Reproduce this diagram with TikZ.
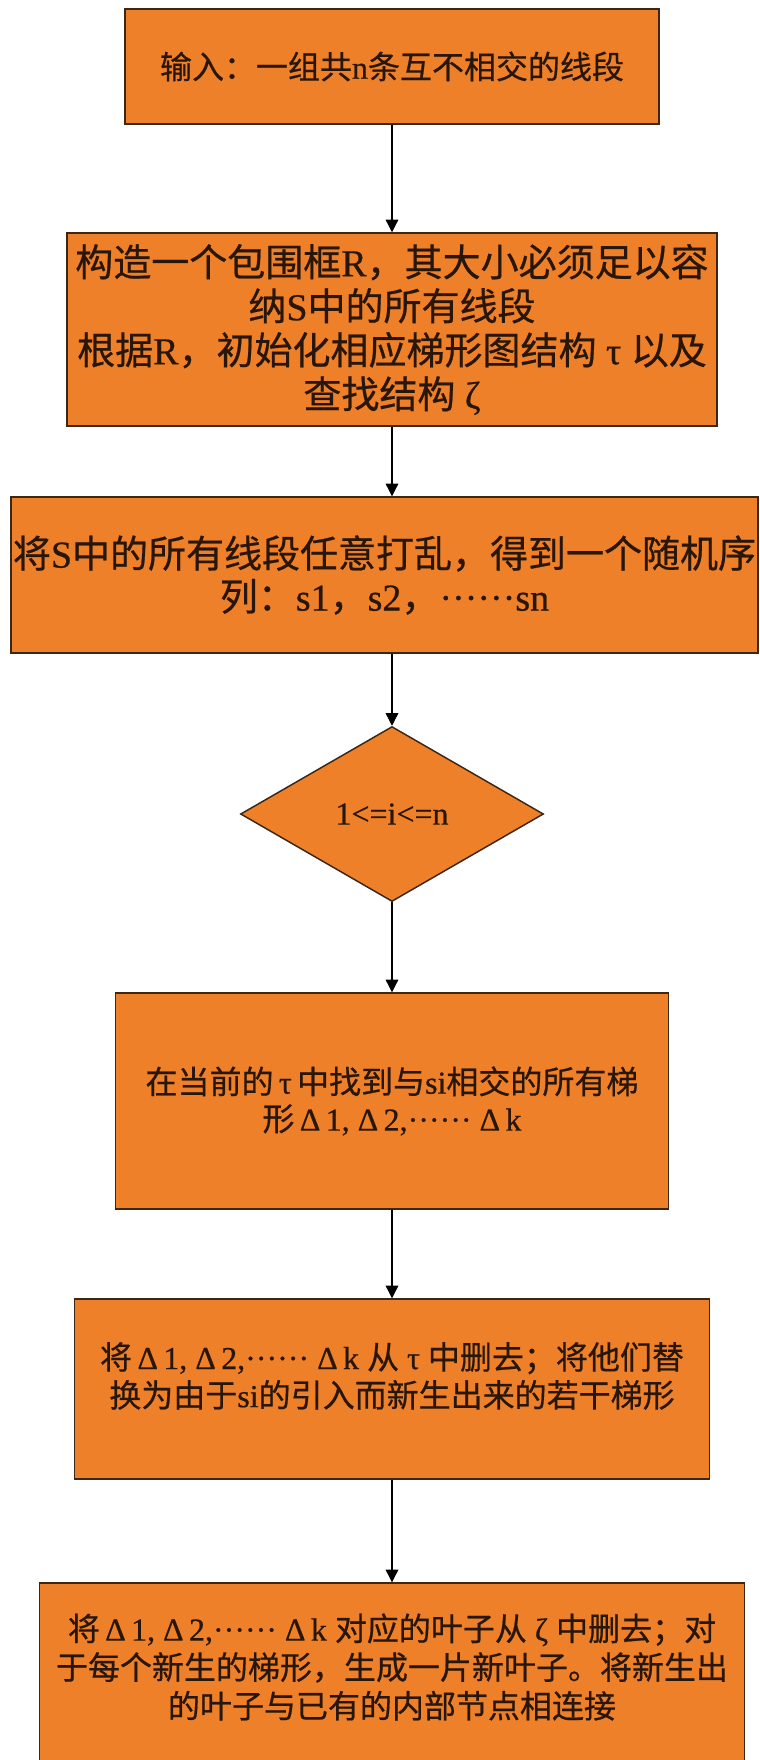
\documentclass[tikz,border=0pt]{standalone}
\usepackage{fontspec}
\setmainfont{Noto Sans CJK SC}[FakeBold=0.6]
\newfontfamily\la{Liberation Serif}[FakeBold=0.6]
\usetikzlibrary{shapes.geometric,arrows.meta}
\definecolor{boxfill}{RGB}{238,128,42}
\definecolor{boxline}{RGB}{60,38,20}
\definecolor{txt}{RGB}{40,22,8}
\newcommand\mydots{{\la ······}}
\begin{document}
\begin{tikzpicture}[x=0.75pt,y=-0.75pt,
  box/.style={draw=boxline, fill=boxfill, line width=1.1pt, inner sep=0pt, text=txt, align=center},
  dia/.style={box, shape=diamond},
  lab/.style={text=txt, align=center, inner sep=0pt},
  arr/.style={draw=black, line width=0.9pt, -{Triangle[width=9.5pt,length=9.5pt]}},
  fa/.style={font=\fontsize{24pt}{28pt}\selectfont},
  fb/.style={font=\fontsize{28.5pt}{33pt}\selectfont},
  fc/.style={font=\fontsize{24pt}{28.5pt}\selectfont}]
\useasboundingbox (0,0) rectangle (760,1760);
\fill[white] (0,0) rectangle (760,1760);

\node[box, fa, minimum width=400.5pt, minimum height=86.25pt] (b1) at (392,66.5)
  {输入：一组共{\la n}条互不相交的线段};

\node[box, fb, minimum width=487.5pt, minimum height=144.75pt] (b2) at (392,329.5)
  {构造一个包围框{\la R}，其大小必须足以容\\
   纳{\la S}中的所有线段\\
   根据{\la R}，初始化相应梯形图结构{\la\ τ\ }以及\\
   查找结构{\la\ ζ}};

\node[box, fb, font=\fontsize{28.5pt}{32.25pt}\selectfont, minimum width=560.25pt, minimum height=117pt] (b3) at (384.5,575)
  {将{\la S}中的所有线段任意打乱，得到一个随机序\\
   列：{\la s1}，{\la s2}，\mydots{\la sn}};

\node[dia, minimum width=227.25pt, minimum height=131.25pt, font=\la\fontsize{24pt}{28pt}\selectfont] (d4) at (392,814)
  {1<=i<=n};

\node[box, font=\fontsize{24pt}{27.75pt}\selectfont, minimum width=414.75pt, minimum height=162pt] (b5) at (392,1101)
  {在当前的{\la\,τ\,}中找到与{\la si}相交的所有梯\\
   形{\la\,Δ\,1, Δ\,2,}\mydots{\la\ Δ\,k}};

\node[box, minimum width=476.25pt, minimum height=135pt] (b6) at (392,1389) {};
\node[lab, fc] (t6) at (392,1376)
  {将{\la\,Δ\,1, Δ\,2,}\mydots{\la\ Δ\,k\ }从{\la\ τ\ }中删去；将他们替\\
   换为由于{\la si}的引入而新生出来的若干梯形};

\node[box, minimum width=528.75pt, minimum height=140.25pt] (b7) at (392,1676.5) {};
\node[lab, font=\fontsize{24pt}{29pt}\selectfont] (t7) at (392,1667)
  {将{\la\,Δ\,1, Δ\,2,}\mydots{\la\ Δ\,k\ }对应的叶子从{\la\ ζ\ }中删去；对\\
   于每个新生的梯形，生成一片新叶子。将新生出\\
   的叶子与已有的内部节点相连接};

\draw[arr] (b1.south) -- (b2.north);
\draw[arr] (b2.south) -- (b2.south |- b3.north);
\draw[arr] (b3.south -| d4.north) -- (d4.north);
\draw[arr] (d4.south) -- (b5.north);
\draw[arr] (b5.south) -- (b6.north);
\draw[arr] (b6.south) -- (b7.north);
\end{tikzpicture}
\end{document}
